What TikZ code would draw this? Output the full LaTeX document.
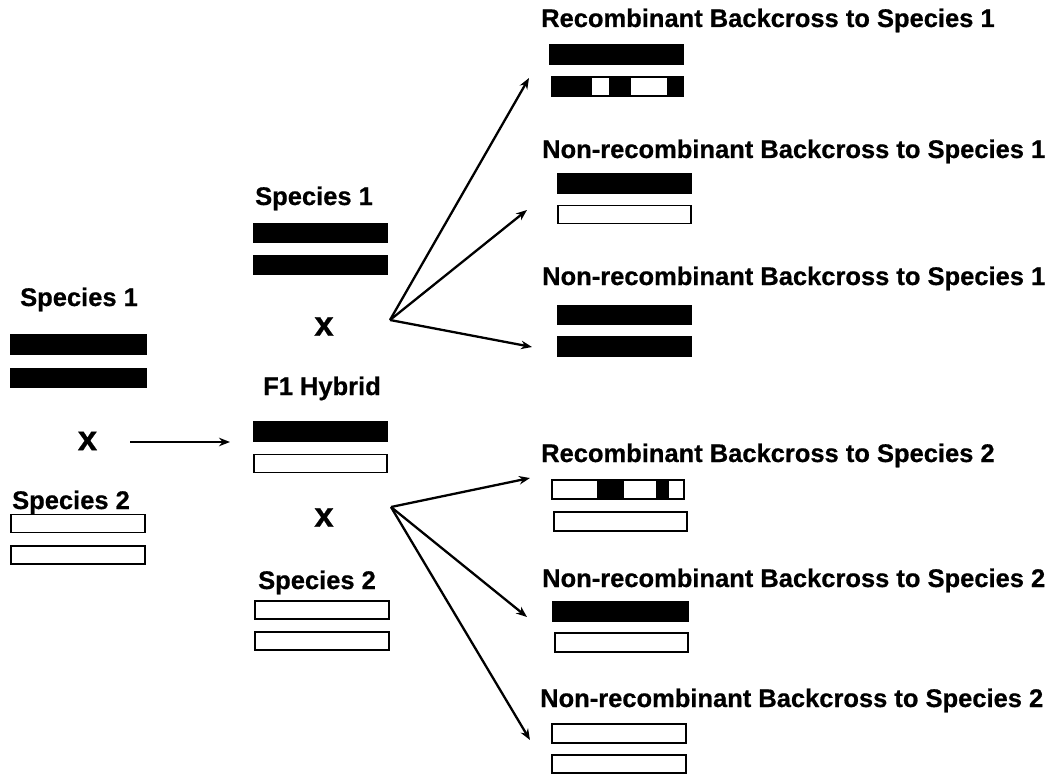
\documentclass[tikz,border=0pt]{standalone}
\usepackage{fontspec}
\setmainfont{Liberation Sans}
\newfontfamily\lblfont[FakeBold=0.6]{Liberation Sans Bold}
\usetikzlibrary{arrows.meta}
\begin{document}
\begin{tikzpicture}[x=1pt,y=-1pt,
  lbl/.style={anchor=base west,inner sep=0pt,font=\lblfont\fontsize{25.5}{30}\selectfont},
  cross/.style={inner sep=0pt,font=\lblfont\fontsize{35}{40}\selectfont},
  bbar/.style={draw=black,fill=black,line width=1.2pt,inner sep=0pt,minimum width=133pt,minimum height=19pt},
  wbar/.style={draw=black,fill=white,line width=1.2pt,inner sep=0pt,minimum width=133pt,minimum height=18pt},
  arr/.style={line width=2.3pt,-{Stealth[length=11pt,width=8.5pt]}}]
\useasboundingbox (0,0) rectangle (1057,778);
% left column
\node[lbl] (ls1) at (20,306) {Species 1};
\node[bbar,minimum width=135pt] (s1a) at (78.5,344.5) {};
\node[bbar,minimum width=135pt] (s1b) at (78.5,378) {};
\node[cross] (xl) at (87.5,441) {x};
\node[lbl] (ls2) at (12,509) {Species 2};
\node[wbar,minimum width=134pt] (s2a) at (78,523.5) {};
\node[wbar,minimum width=134pt] (s2b) at (78,555) {};
\coordinate (al0) at (130,442);
\coordinate (al1) at (230,442);
\draw[arr] (al0) -- (al1);
% middle column
\node[lbl] (ms1) at (255,205) {Species 1};
\node[bbar] (m1a) at (320.5,233) {};
\node[bbar] (m1b) at (320.5,265) {};
\node[cross] (xm1) at (324,326.5) {x};
\node[lbl] (f1) at (263,395) {F1 Hybrid};
\node[bbar] (f1a) at (320.5,431.5) {};
\node[wbar] (f1b) at (320.5,463.5) {};
\node[cross] (xm2) at (324,517.5) {x};
\node[lbl] (ms2) at (258,589) {Species 2};
\node[wbar,minimum width=134pt] (m2a) at (322,610) {};
\node[wbar,minimum width=134pt] (m2b) at (322,641) {};
% right column, species 1 backcrosses
\node[lbl] (t1) at (541,27) {Recombinant Backcross to Species 1};
\node[bbar] (r1a) at (616.5,54.5) {};
\node[bbar,minimum width=131pt] (r1b) at (617.5,86.5) {};
\fill[white] (592,78.2) rectangle (609,94.8);
\fill[white] (631,78.2) rectangle (667,94.8);
\node[lbl] (t2) at (542,158) {Non-recombinant Backcross to Species 1};
\node[bbar,minimum height=20pt] (n1a) at (624.5,183.5) {};
\node[wbar] (n1b) at (624.5,214.5) {};
\node[lbl] (t3) at (542,285) {Non-recombinant Backcross to Species 1};
\node[bbar] (n1c) at (624.5,315) {};
\node[bbar] (n1d) at (624.5,346.5) {};
% right column, species 2 backcrosses
\node[lbl] (t4) at (541,462) {Recombinant Backcross to Species 2};
\node[wbar,minimum width=132pt,minimum height=19pt] (r2a) at (618,489.5) {};
\fill[black] (597,480) rectangle (624,499);
\fill[black] (656,480) rectangle (669,499);
\node[wbar,minimum height=19pt] (r2b) at (620.5,521.5) {};
\node[lbl] (t5) at (542,587) {Non-recombinant Backcross to Species 2};
\node[bbar,minimum width=135pt] (n2a) at (620.5,611.5) {};
\node[wbar,minimum height=19pt] (n2b) at (621.5,642.5) {};
\node[lbl] (t6) at (540,707) {Non-recombinant Backcross to Species 2};
\node[wbar,minimum width=134pt,minimum height=19pt] (n2c) at (619,733.5) {};
\node[wbar,minimum width=134pt] (n2d) at (619,764) {};
% fan arrows
\coordinate (o1) at (390,320);
\coordinate (e1) at (529,78);
\coordinate (e2) at (527,210);
\coordinate (e3) at (532,347);
\draw[arr] (o1) -- (e1);
\draw[arr] (o1) -- (e2);
\draw[arr] (o1) -- (e3);
\coordinate (o2) at (391,507);
\coordinate (e4) at (530,478);
\coordinate (e5) at (527,617);
\coordinate (e6) at (530,740);
\draw[arr] (o2) -- (e4);
\draw[arr] (o2) -- (e5);
\draw[arr] (o2) -- (e6);
\end{tikzpicture}
\end{document}
